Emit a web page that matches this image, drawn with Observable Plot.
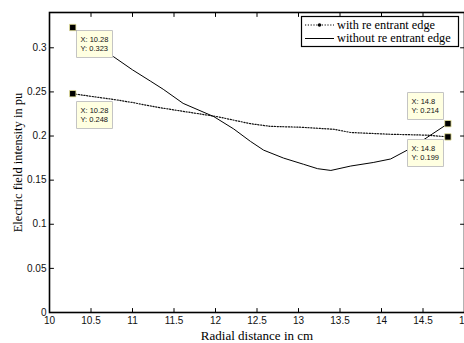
<!DOCTYPE html>
<html>
<head>
<meta charset="utf-8">
<script src="https://cdn.jsdelivr.net/npm/d3@7"></script>
<script src="https://cdn.jsdelivr.net/npm/@observablehq/plot@0.6"></script>
<style>
  html, body { margin: 0; padding: 0; background: #fff; }
  #chart svg { display: block; }
</style>
</head>
<body>
<div id="chart"></div>
<script>
// ---- data ----
const withX = [10.28, 10.5, 10.77, 11.0, 11.22, 11.34, 11.61, 12.02, 12.42, 12.66, 13.02, 13.42, 13.63, 14.11, 14.55, 14.8];
const withY = [0.248, 0.245, 0.2415, 0.238, 0.234, 0.232, 0.228, 0.222, 0.214, 0.211, 0.210, 0.2077, 0.204, 0.202, 0.201, 0.199];
const withoutX = [10.28, 10.5, 10.77, 11.0, 11.22, 11.37, 11.61, 11.98, 12.22, 12.42, 12.58, 12.82, 13.06, 13.23, 13.39, 13.63, 13.9, 14.11, 14.35, 14.8];
const withoutY = [0.323, 0.306, 0.290, 0.275, 0.262, 0.253, 0.237, 0.222, 0.208, 0.194, 0.184, 0.175, 0.168, 0.163, 0.161, 0.166, 0.170, 0.174, 0.186, 0.214];
const seriesNames = ["with re entrant edge", "without re entrant edge"];
const tipX = [10.28, 10.28, 14.8, 14.8];
const tipY = [0.323, 0.248, 0.214, 0.199];
const xTicks = [10, 10.5, 11, 11.5, 12, 12.5, 13, 13.5, 14, 14.5, 15];
const yTicks = [0, 0.05, 0.1, 0.15, 0.2, 0.25, 0.3];
const xLabel = "Radial distance in cm";
const yLabel = "Electric field intensity in pu";

const withData = withX.map((x, i) => ({x, y: withY[i]}));
const withoutData = withoutX.map((x, i) => ({x, y: withoutY[i]}));
const tips = tipX.map((x, i) => ({x, y: tipY[i], label: `X: ${x}\nY: ${tipY[i]}`}));

const tipStyle = {
  x: "x", y: "y", title: "label", pointerSize: 0,
  fill: "#ffffe1", stroke: "#c4c4c4", strokeWidth: 1,
  fontSize: 7.5, fontFamily: "Liberation Sans, Arial, sans-serif",
  textPadding: 4, lineHeight: 1.3, pathFilter: "none"
};

// inward tick shape
const tickShape = {draw(context, l) { context.moveTo(0, 0); context.lineTo(0, -l); }};
const tickStyle = {length: 4, anchor: "start", shape: tickShape, stroke: "#000", strokeWidth: 1};
const serif = "Liberation Serif, Times New Roman, serif";

const plot = Plot.plot({
  width: 464,
  height: 343,
  marginLeft: 49,
  marginRight: 0,
  marginTop: 12,
  marginBottom: 31,
  style: {fontFamily: "Liberation Sans, Arial, sans-serif", fontSize: "10px", color: "#111", background: "#fff"},
  x: {domain: [10, 15]},
  y: {domain: [0, 0.34]},
  marks: [
    Plot.axisX(xTicks, {anchor: "bottom", tickSize: 0, tickPadding: 4, tickFormat: d => String(d), label: null, fontSize: 10}),
    Plot.axisY(yTicks, {anchor: "left", tickSize: 0, tickPadding: 3, tickFormat: d => String(d), label: null, fontSize: 10}),
    Plot.vector(xTicks, {x: d => d, frameAnchor: "bottom", rotate: 0, ...tickStyle}),
    Plot.vector(xTicks, {x: d => d, frameAnchor: "top", rotate: 180, ...tickStyle}),
    Plot.vector(yTicks, {y: d => d, frameAnchor: "left", rotate: 90, ...tickStyle}),
    Plot.vector(yTicks, {y: d => d, frameAnchor: "right", rotate: -90, ...tickStyle}),
    Plot.frame({stroke: "#000", strokeWidth: 1.6}),
    Plot.line(withData, {x: "x", y: "y", stroke: "#111", strokeWidth: 1.2, strokeDasharray: "1.2,1.6"}),
    Plot.line(withoutData, {x: "x", y: "y", stroke: "#000", strokeWidth: 1}),
    Plot.dot(tips, {x: "x", y: "y", symbol: "square", r: 3.6, fill: "#000", stroke: "#e8e49a", strokeWidth: 0.8}),
    Plot.tip(tips.filter((d, i) => i === 0), {...tipStyle, anchor: "top-left", dx: 4, dy: 3}),
    Plot.tip(tips.filter((d, i) => i === 1), {...tipStyle, anchor: "top-left", dx: 4, dy: 8}),
    Plot.tip(tips.filter((d, i) => i === 2), {...tipStyle, anchor: "bottom-right", dx: -4, dy: -4}),
    Plot.tip(tips.filter((d, i) => i === 3), {...tipStyle, anchor: "top-right", dx: -4, dy: 3}),
    Plot.text([xLabel], {frameAnchor: "bottom", textAnchor: "middle", lineAnchor: "middle", dy: 23, fontFamily: serif, fontSize: 13, fill: "#000"}),
    Plot.text([yLabel], {frameAnchor: "left", textAnchor: "middle", lineAnchor: "middle", dx: -32, rotate: -90, fontFamily: serif, fontSize: 12.5, fill: "#000"})
  ]
});

// legend box (MATLAB-style, inside the axes)
const svg = d3.select(plot);
const lg = svg.append("g").attr("class", "legend");
lg.append("rect").attr("x", 301.5).attr("y", 16.5).attr("width", 157).attr("height", 30)
  .attr("fill", "#fff").attr("stroke", "#000").attr("stroke-width", 1.2);
const rows = [
  {name: seriesNames[0], dash: "1.2,1.6", marker: true, w: 1.2},
  {name: seriesNames[1], dash: null, marker: false, w: 1}
];
rows.forEach((r, i) => {
  const yy = 25 + i * 13.5;
  const ln = lg.append("line").attr("x1", 305).attr("x2", 334).attr("y1", yy).attr("y2", yy)
    .attr("stroke", "#000").attr("stroke-width", r.w);
  if (r.dash) ln.attr("stroke-dasharray", r.dash);
  if (r.marker) lg.append("circle").attr("cx", 319.5).attr("cy", yy).attr("r", 1.8).attr("fill", "#000");
  lg.append("text").attr("x", 337).attr("y", yy).attr("dy", "0.32em")
    .attr("text-anchor", "start")
    .attr("font-family", serif).attr("font-size", 12.3)
    .attr("fill", "#000").text(r.name);
});

document.getElementById("chart").appendChild(plot);
</script>
</body>
</html>
